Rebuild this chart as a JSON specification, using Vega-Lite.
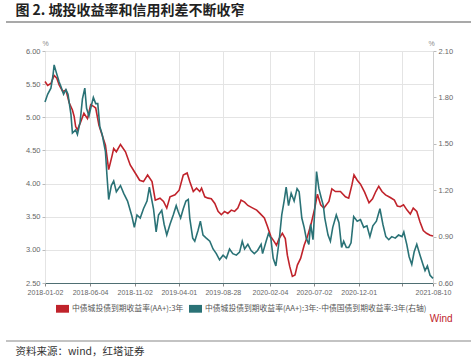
{
  "$schema": "https://vega.github.io/schema/vega-lite/v6.json",
  "background": "white",
  "padding": {"left": 5, "right": 3, "top": 4, "bottom": 4},
  "spacing": 16,
  "config": {
    "view": {"stroke": null},
    "font": "Noto Sans CJK SC",
    "axis": {"labelFont": "Liberation Sans", "labelFontSize": 7.5, "labelColor": "#666", "gridColor": "#e4e4e4", "gridWidth": 1, "tickColor": "#bbb", "tickSize": 4, "labelPadding": 2}
  },
  "title": {"text": "图 2. 城投收益率和信用利差不断收窄", "anchor": "start", "dx": 10, "offset": 3, "font": "Noto Sans CJK SC", "fontWeight": "bold", "fontSize": 14, "color": "#222"},
  "datasets": {
    "sep": [{"x1": -39, "x2": 426}],
    "ytm": [
      {"date": "2018-01-02", "value": 5.54}, {"date": "2018-01-11", "value": 5.48}, {"date": "2018-01-22", "value": 5.51}, {"date": "2018-02-02", "value": 5.63},
      {"date": "2018-02-11", "value": 5.59}, {"date": "2018-02-19", "value": 5.49}, {"date": "2018-03-03", "value": 5.39}, {"date": "2018-03-14", "value": 5.41},
      {"date": "2018-03-25", "value": 5.22}, {"date": "2018-04-05", "value": 5.11}, {"date": "2018-04-11", "value": 5.01}, {"date": "2018-04-16", "value": 4.86},
      {"date": "2018-04-22", "value": 4.81}, {"date": "2018-05-03", "value": 4.93}, {"date": "2018-05-14", "value": 5.06}, {"date": "2018-05-26", "value": 4.98},
      {"date": "2018-06-06", "value": 5.19}, {"date": "2018-06-17", "value": 5.16}, {"date": "2018-06-23", "value": 5.14}, {"date": "2018-07-04", "value": 4.88},
      {"date": "2018-07-15", "value": 4.73}, {"date": "2018-07-26", "value": 4.58}, {"date": "2018-08-06", "value": 4.21}, {"date": "2018-08-18", "value": 4.43},
      {"date": "2018-08-23", "value": 4.53}, {"date": "2018-09-01", "value": 4.48}, {"date": "2018-09-15", "value": 4.59}, {"date": "2018-10-02", "value": 4.48},
      {"date": "2018-10-18", "value": 4.28}, {"date": "2018-11-04", "value": 4.16}, {"date": "2018-11-19", "value": 4.05}, {"date": "2018-12-02", "value": 4.03},
      {"date": "2018-12-16", "value": 4.13}, {"date": "2018-12-31", "value": 4.03}, {"date": "2019-01-11", "value": 3.75}, {"date": "2019-01-27", "value": 3.78},
      {"date": "2019-02-08", "value": 3.73}, {"date": "2019-02-19", "value": 3.63}, {"date": "2019-03-02", "value": 3.80}, {"date": "2019-03-19", "value": 3.83},
      {"date": "2019-04-02", "value": 3.90}, {"date": "2019-04-16", "value": 4.13}, {"date": "2019-04-29", "value": 4.16}, {"date": "2019-05-08", "value": 4.03},
      {"date": "2019-05-20", "value": 3.88}, {"date": "2019-05-31", "value": 3.93}, {"date": "2019-06-11", "value": 3.88}, {"date": "2019-06-17", "value": 3.93},
      {"date": "2019-06-28", "value": 3.80}, {"date": "2019-07-09", "value": 3.78}, {"date": "2019-07-20", "value": 3.77}, {"date": "2019-08-01", "value": 3.70},
      {"date": "2019-08-12", "value": 3.58}, {"date": "2019-08-23", "value": 3.53}, {"date": "2019-09-03", "value": 3.58}, {"date": "2019-09-14", "value": 3.55},
      {"date": "2019-09-26", "value": 3.60}, {"date": "2019-10-07", "value": 3.58}, {"date": "2019-10-18", "value": 3.63}, {"date": "2019-10-29", "value": 3.75},
      {"date": "2019-11-10", "value": 3.72}, {"date": "2019-11-21", "value": 3.67}, {"date": "2019-12-08", "value": 3.63}, {"date": "2019-12-21", "value": 3.60},
      {"date": "2020-01-01", "value": 3.55}, {"date": "2020-01-16", "value": 3.48}, {"date": "2020-01-27", "value": 3.35}, {"date": "2020-02-07", "value": 3.20},
      {"date": "2020-02-19", "value": 3.12}, {"date": "2020-02-26", "value": 3.07}, {"date": "2020-03-06", "value": 3.17}, {"date": "2020-03-17", "value": 3.25},
      {"date": "2020-03-27", "value": 3.17}, {"date": "2020-04-03", "value": 2.92}, {"date": "2020-04-11", "value": 2.75}, {"date": "2020-04-20", "value": 2.60},
      {"date": "2020-04-29", "value": 2.62}, {"date": "2020-05-07", "value": 2.77}, {"date": "2020-05-18", "value": 2.87}, {"date": "2020-05-30", "value": 3.07},
      {"date": "2020-06-10", "value": 3.20}, {"date": "2020-06-23", "value": 3.40}, {"date": "2020-07-05", "value": 3.63}, {"date": "2020-07-14", "value": 3.84},
      {"date": "2020-07-25", "value": 3.68}, {"date": "2020-08-05", "value": 3.63}, {"date": "2020-08-22", "value": 3.73}, {"date": "2020-09-01", "value": 3.92},
      {"date": "2020-09-13", "value": 3.88}, {"date": "2020-09-30", "value": 3.88}, {"date": "2020-10-17", "value": 3.80}, {"date": "2020-10-28", "value": 3.78},
      {"date": "2020-11-08", "value": 3.98}, {"date": "2020-11-15", "value": 4.13}, {"date": "2020-11-26", "value": 4.05}, {"date": "2020-12-07", "value": 3.99},
      {"date": "2020-12-21", "value": 3.87}, {"date": "2021-01-05", "value": 3.71}, {"date": "2021-01-17", "value": 3.77}, {"date": "2021-01-28", "value": 3.88},
      {"date": "2021-02-07", "value": 3.96}, {"date": "2021-02-18", "value": 3.88}, {"date": "2021-03-02", "value": 3.83}, {"date": "2021-03-18", "value": 3.79},
      {"date": "2021-04-01", "value": 3.75}, {"date": "2021-04-11", "value": 3.66}, {"date": "2021-04-21", "value": 3.65}, {"date": "2021-05-02", "value": 3.68},
      {"date": "2021-05-14", "value": 3.60}, {"date": "2021-05-25", "value": 3.54}, {"date": "2021-06-04", "value": 3.63}, {"date": "2021-06-16", "value": 3.58},
      {"date": "2021-06-27", "value": 3.42}, {"date": "2021-07-08", "value": 3.29}, {"date": "2021-07-19", "value": 3.25}, {"date": "2021-07-31", "value": 3.22},
      {"date": "2021-08-10", "value": 3.21}
    ],
    "spread": [
      {"date": "2018-01-02", "value": 1.77}, {"date": "2018-01-11", "value": 1.82}, {"date": "2018-01-22", "value": 1.86}, {"date": "2018-01-29", "value": 1.94},
      {"date": "2018-02-02", "value": 2.01}, {"date": "2018-02-08", "value": 1.97}, {"date": "2018-02-19", "value": 1.90}, {"date": "2018-02-25", "value": 1.87},
      {"date": "2018-03-06", "value": 1.82}, {"date": "2018-03-14", "value": 1.85}, {"date": "2018-03-21", "value": 1.82}, {"date": "2018-03-31", "value": 1.69},
      {"date": "2018-04-05", "value": 1.57}, {"date": "2018-04-16", "value": 1.59}, {"date": "2018-04-22", "value": 1.56}, {"date": "2018-05-01", "value": 1.64},
      {"date": "2018-05-09", "value": 1.79}, {"date": "2018-05-17", "value": 1.86}, {"date": "2018-05-23", "value": 1.73}, {"date": "2018-05-31", "value": 1.68},
      {"date": "2018-06-06", "value": 1.73}, {"date": "2018-06-15", "value": 1.80}, {"date": "2018-06-23", "value": 1.76}, {"date": "2018-06-30", "value": 1.76},
      {"date": "2018-07-07", "value": 1.61}, {"date": "2018-07-15", "value": 1.56}, {"date": "2018-07-26", "value": 1.45}, {"date": "2018-07-31", "value": 1.30},
      {"date": "2018-08-06", "value": 1.14}, {"date": "2018-08-15", "value": 1.23}, {"date": "2018-08-23", "value": 1.26}, {"date": "2018-09-01", "value": 1.19},
      {"date": "2018-09-15", "value": 1.23}, {"date": "2018-09-26", "value": 1.18}, {"date": "2018-10-09", "value": 1.13}, {"date": "2018-10-24", "value": 1.03},
      {"date": "2018-11-01", "value": 0.96}, {"date": "2018-11-10", "value": 1.04}, {"date": "2018-11-21", "value": 1.02}, {"date": "2018-12-02", "value": 1.08},
      {"date": "2018-12-14", "value": 1.13}, {"date": "2018-12-22", "value": 1.22}, {"date": "2019-01-05", "value": 1.08}, {"date": "2019-01-14", "value": 0.93},
      {"date": "2019-01-22", "value": 1.04}, {"date": "2019-02-02", "value": 1.07}, {"date": "2019-02-10", "value": 0.98}, {"date": "2019-02-19", "value": 0.91},
      {"date": "2019-03-02", "value": 0.98}, {"date": "2019-03-13", "value": 1.04}, {"date": "2019-03-23", "value": 1.10}, {"date": "2019-03-30", "value": 1.06},
      {"date": "2019-04-07", "value": 1.02}, {"date": "2019-04-16", "value": 1.08}, {"date": "2019-04-25", "value": 1.13}, {"date": "2019-05-03", "value": 1.14},
      {"date": "2019-05-08", "value": 1.02}, {"date": "2019-05-18", "value": 0.89}, {"date": "2019-05-25", "value": 0.87}, {"date": "2019-06-05", "value": 0.94},
      {"date": "2019-06-13", "value": 1.00}, {"date": "2019-06-22", "value": 0.91}, {"date": "2019-07-03", "value": 0.89}, {"date": "2019-07-15", "value": 0.87},
      {"date": "2019-07-26", "value": 0.82}, {"date": "2019-08-06", "value": 0.79}, {"date": "2019-08-17", "value": 0.75}, {"date": "2019-08-29", "value": 0.78},
      {"date": "2019-09-09", "value": 0.76}, {"date": "2019-09-20", "value": 0.82}, {"date": "2019-10-01", "value": 0.79}, {"date": "2019-10-13", "value": 0.78},
      {"date": "2019-10-24", "value": 0.80}, {"date": "2019-11-02", "value": 0.87}, {"date": "2019-11-10", "value": 0.82}, {"date": "2019-11-21", "value": 0.85},
      {"date": "2019-12-02", "value": 0.81}, {"date": "2019-12-13", "value": 0.79}, {"date": "2019-12-24", "value": 0.81}, {"date": "2020-01-05", "value": 0.85},
      {"date": "2020-01-10", "value": 0.79}, {"date": "2020-01-22", "value": 0.87}, {"date": "2020-01-30", "value": 0.92}, {"date": "2020-02-07", "value": 0.89},
      {"date": "2020-02-15", "value": 0.76}, {"date": "2020-02-24", "value": 0.71}, {"date": "2020-03-06", "value": 0.87}, {"date": "2020-03-15", "value": 1.04},
      {"date": "2020-03-23", "value": 1.13}, {"date": "2020-03-30", "value": 1.22}, {"date": "2020-04-07", "value": 1.10}, {"date": "2020-04-16", "value": 1.18},
      {"date": "2020-04-26", "value": 1.13}, {"date": "2020-05-06", "value": 1.21}, {"date": "2020-05-13", "value": 1.19}, {"date": "2020-05-22", "value": 1.02},
      {"date": "2020-05-30", "value": 0.96}, {"date": "2020-06-06", "value": 0.89}, {"date": "2020-06-15", "value": 0.85}, {"date": "2020-06-21", "value": 0.98},
      {"date": "2020-06-29", "value": 0.88}, {"date": "2020-07-05", "value": 1.07}, {"date": "2020-07-11", "value": 1.32}, {"date": "2020-07-19", "value": 1.21},
      {"date": "2020-07-27", "value": 1.15}, {"date": "2020-08-03", "value": 1.10}, {"date": "2020-08-08", "value": 1.02}, {"date": "2020-08-19", "value": 0.91},
      {"date": "2020-08-27", "value": 0.87}, {"date": "2020-09-04", "value": 0.96}, {"date": "2020-09-16", "value": 1.04}, {"date": "2020-09-25", "value": 0.99},
      {"date": "2020-10-04", "value": 0.83}, {"date": "2020-10-11", "value": 0.87}, {"date": "2020-10-20", "value": 0.83}, {"date": "2020-10-28", "value": 0.83},
      {"date": "2020-11-05", "value": 0.86}, {"date": "2020-11-14", "value": 1.03}, {"date": "2020-11-26", "value": 1.00}, {"date": "2020-12-07", "value": 1.01},
      {"date": "2020-12-18", "value": 0.96}, {"date": "2020-12-29", "value": 0.97}, {"date": "2021-01-08", "value": 0.90}, {"date": "2021-01-18", "value": 0.97},
      {"date": "2021-01-30", "value": 1.00}, {"date": "2021-02-11", "value": 1.08}, {"date": "2021-02-21", "value": 0.98}, {"date": "2021-03-03", "value": 0.90},
      {"date": "2021-03-13", "value": 0.88}, {"date": "2021-03-23", "value": 0.90}, {"date": "2021-04-04", "value": 0.89}, {"date": "2021-04-15", "value": 0.91},
      {"date": "2021-04-27", "value": 0.90}, {"date": "2021-05-03", "value": 0.93}, {"date": "2021-05-13", "value": 0.85}, {"date": "2021-05-21", "value": 0.77},
      {"date": "2021-05-30", "value": 0.72}, {"date": "2021-06-07", "value": 0.80}, {"date": "2021-06-16", "value": 0.85}, {"date": "2021-06-27", "value": 0.78},
      {"date": "2021-07-07", "value": 0.72}, {"date": "2021-07-14", "value": 0.68}, {"date": "2021-07-22", "value": 0.71}, {"date": "2021-07-31", "value": 0.65},
      {"date": "2021-08-10", "value": 0.63}
    ]
  },
  "vconcat": [
    {
      "width": 388,
      "height": 1,
      "data": {"name": "sep"},
      "mark": {"type": "rule", "color": "#555", "strokeWidth": 1.2, "clip": false},
      "encoding": {
        "x": {"field": "x1", "type": "quantitative", "scale": {"domain": [0, 388], "nice": false, "zero": false}, "axis": null},
        "x2": {"field": "x2"},
        "y": {"datum": 0, "type": "quantitative", "scale": {"domain": [0, 1]}, "axis": null}
      }
    },
    {
      "width": 388,
      "height": 232,
      "title": {"text": "Wind", "orient": "bottom", "anchor": "end", "offset": 19, "font": "Liberation Sans", "fontSize": 10, "fontWeight": "normal", "color": "#c0232b"},
      "layer": [
        {
          "data": {"name": "ytm"},
          "mark": {"type": "line", "strokeWidth": 1.6},
          "encoding": {
            "x": {
              "field": "date", "type": "temporal",
              "scale": {"type": "utc", "nice": false, "domain": [{"year": 2018, "month": 1, "date": 2, "utc": true}, {"year": 2021, "month": 8, "date": 10, "utc": true}]},
              "axis": {
                "title": null,
                "grid": true, "domainColor": "#4f6f73", "tickColor": "#888", "tickSize": 3, "labelFontSize": 7, "labelOverlap": false, "labelFlush": false,
                "values": [
                  {"year": 2018, "month": 1, "date": 2, "utc": true}, {"year": 2018, "month": 6, "date": 4, "utc": true},
                  {"year": 2018, "month": 11, "date": 2, "utc": true}, {"year": 2019, "month": 4, "date": 1, "utc": true},
                  {"year": 2019, "month": 8, "date": 28, "utc": true}, {"year": 2020, "month": 2, "date": 4, "utc": true},
                  {"year": 2020, "month": 7, "date": 2, "utc": true}, {"year": 2020, "month": 12, "date": 1, "utc": true},
                  {"year": 2021, "month": 4, "date": 26, "utc": true}, {"year": 2021, "month": 8, "date": 10, "utc": true}
                ],
                "labelExpr": "(utcyear(datum.value) == 2021 && utcmonth(datum.value) == 3) ? '' : utcFormat(datum.value, '%Y-%m-%d')"
              }
            },
            "y": {
              "field": "value", "type": "quantitative",
              "scale": {"domain": [2.5, 6], "nice": false, "zero": false},
              "axis": {
                "orient": "left", "values": [2.5, 3, 3.5, 4, 4.5, 5, 5.5, 6], "format": ".2f", "grid": true, "domain": false, "tickSize": 3,
                "title": "%", "titleAngle": 0, "titleX": 0, "titleY": -5, "titleAlign": "center", "titleBaseline": "bottom",
                "titleFont": "Liberation Sans", "titleFontSize": 7, "titleFontWeight": "normal", "titleColor": "#888"
              }
            },
            "color": {
              "datum": "中债城投债到期收益率(AA+):3年",
              "type": "nominal",
              "scale": {"domain": ["中债城投债到期收益率(AA+):3年", "中债城投债到期收益率(AA+):3年:-中债国债到期收益率:3年(右轴)"], "range": ["#c0232b", "#2a7276"]},
              "legend": {
                "orient": "none", "legendX": 11, "legendY": 281, "direction": "horizontal", "title": null,
                "symbolType": "M-1,-0.6H1V0.6H-1Z", "symbolSize": 169, "symbolStrokeWidth": 0,
                "labelFont": "Noto Sans CJK SC", "labelFontSize": 7.8, "labelColor": "#555", "labelLimit": 400, "labelOffset": 3, "columnPadding": 5,
                "encode": {"symbols": {"update": {"fill": {"scale": "color", "field": "value"}, "stroke": {"value": "transparent"}, "opacity": {"value": 1}}}}
              }
            }
          }
        },
        {
          "data": {"name": "spread"},
          "mark": {"type": "line", "strokeWidth": 1.6},
          "encoding": {
            "x": {"field": "date", "type": "temporal"},
            "y": {
              "field": "value", "type": "quantitative",
              "scale": {"domain": [0.6, 2.1], "nice": false, "zero": false},
              "axis": {
                "orient": "right", "values": [0.6, 0.9, 1.2, 1.5, 1.8, 2.1], "format": ".2f", "grid": false, "domain": true, "domainColor": "#d0d0d0", "tickSize": 3,
                "title": "%", "titleAngle": 0, "titleX": -2, "titleY": -5, "titleAlign": "center", "titleBaseline": "bottom",
                "titleFont": "Liberation Sans", "titleFontSize": 7, "titleFontWeight": "normal", "titleColor": "#888"
              }
            },
            "color": {"datum": "中债城投债到期收益率(AA+):3年:-中债国债到期收益率:3年(右轴)", "type": "nominal"}
          }
        }
      ],
      "resolve": {"scale": {"y": "independent"}}
    },
    {
      "width": 388,
      "height": 1,
      "title": {"text": "资料来源：wind，红塔证券", "orient": "bottom", "anchor": "start", "dx": 10, "offset": 5, "font": "Noto Sans CJK SC", "fontSize": 10.5, "fontWeight": "normal", "color": "#333"},
      "data": {"name": "sep"},
      "mark": {"type": "rule", "color": "#888", "strokeWidth": 1.2, "clip": false},
      "encoding": {
        "x": {"field": "x1", "type": "quantitative", "scale": {"domain": [0, 388], "nice": false, "zero": false}, "axis": null},
        "x2": {"field": "x2"},
        "y": {"datum": 0, "type": "quantitative", "scale": {"domain": [0, 1]}, "axis": null}
      }
    }
  ]
}
